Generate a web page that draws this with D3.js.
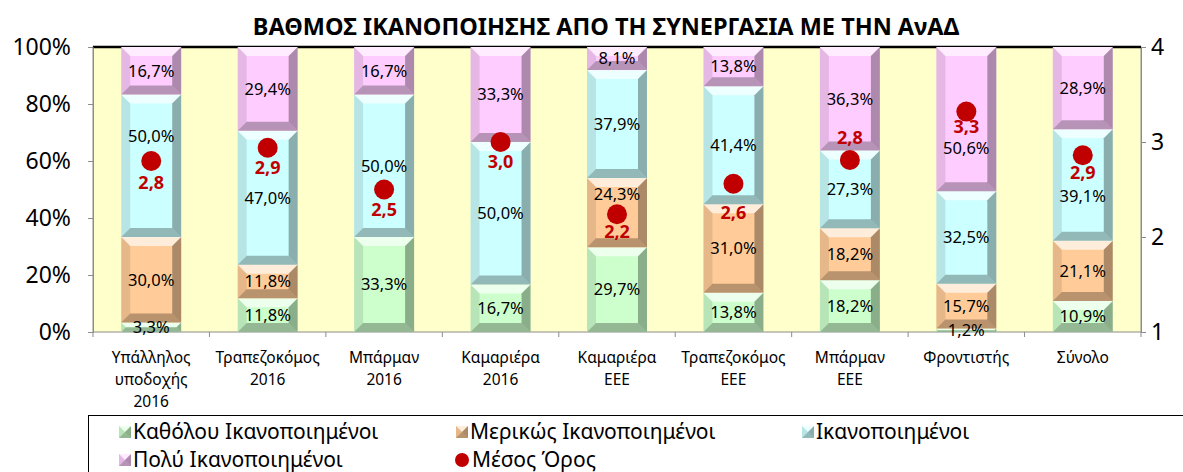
<!DOCTYPE html>
<html>
<head>
<meta charset="utf-8">
<script src="https://cdn.jsdelivr.net/npm/d3@7"></script>
<style>
  body { margin: 0; background: #fff; }
  svg text { font-family: "Noto Sans", sans-serif; }
</style>
</head>
<body>
<svg id="chart" width="1183" height="472"></svg>
<script>
// data
const categories = ["Υπάλληλος υποδοχής 2016", "Τραπεζοκόμος 2016", "Μπάρμαν 2016", "Καμαριέρα 2016",
  "Καμαριέρα ΕΕΕ", "Τραπεζοκόμος ΕΕΕ", "Μπάρμαν ΕΕΕ", "Φροντιστής", "Σύνολο"]
const seriesNames = ["Καθόλου Ικανοποιημένοι", "Μερικώς Ικανοποιημένοι", "Ικανοποιημένοι", "Πολύ Ικανοποιημένοι"]
const notAtAll = [3.3, 11.8, 33.3, 16.7, 29.7, 13.8, 18.2, 1.2, 10.9]
const partly = [30.0, 11.8, 0, 0, 24.3, 31.0, 18.2, 15.7, 21.1]
const satisfied = [50.0, 47.0, 50.0, 50.0, 37.9, 41.4, 27.3, 32.5, 39.1]
const very = [16.7, 29.4, 16.7, 33.3, 8.1, 13.8, 36.3, 50.6, 28.9]
const meanName = "Μέσος Όρος"
const meanValues = [2.8, 2.94, 2.5, 3.0, 2.24, 2.56, 2.81, 3.32, 2.86]
const leftTicks = [0, 20, 40, 60, 80, 100]
const rightTicks = [1, 2, 3, 4]

const colors = ["#CCFFCC", "#FFCC99", "#CCFFFF", "#FFCCFF"]
const red = "#C00000"

// manual label nudges (px), like the moved labels in the original
const segNudge = { "0-2": -30, "4-1": -19, "7-3": 29, "8-2": 11 }
const meanNudge = [22, 20, 20, 20, 17, 29, -22, 15, 17]

const svg = d3.select("#chart")
const margin = { top: 47, right: 42, bottom: 140, left: 93 }
const W = 1183, H = 472
const x0 = margin.left, x1 = W - margin.right, y0 = H - margin.bottom, y1 = margin.top

// title
svg.append("text")
   .attr("x", 606).attr("y", 35)
   .attr("text-anchor", "middle")
   .style("font-size", "23.5px").style("font-weight", "bold")
   .text("ΒΑΘΜΟΣ ΙΚΑΝΟΠΟΙΗΣΗΣ ΑΠΟ ΤΗ ΣΥΝΕΡΓΑΣΙΑ ΜΕ ΤΗΝ ΑνΑΔ")

// scales
const x = d3.scaleBand().domain(categories).range([x0, x1]).paddingInner(0.485).paddingOuter(0.2425)
const y = d3.scaleLinear().domain([0, 100]).range([y0, y1])
const y2 = d3.scaleLinear().domain([1, 4]).range([y0, y1])

// plot area
svg.append("rect")
   .attr("x", x0).attr("y", y1).attr("width", x1 - x0).attr("height", y0 - y1)
   .attr("fill", "#FFFFCC").attr("stroke", "#8c8c8c")
svg.append("line")
   .attr("x1", x0).attr("x2", x1).attr("y1", y1).attr("y2", y1)
   .attr("stroke", "#000").attr("stroke-width", 2.5)

// axes
const leftAxis = svg.append("g")
  .attr("transform", "translate(" + x0 + ",0)")
  .call(d3.axisLeft(y).tickValues(leftTicks).tickSize(5).tickSizeOuter(0).tickFormat(d => d + "%"))
const rightAxis = svg.append("g")
  .attr("transform", "translate(" + x1 + ",0)")
  .call(d3.axisRight(y2).tickValues(rightTicks).tickSize(5).tickSizeOuter(0).tickFormat(d3.format("d")))
for (const ax of [leftAxis, rightAxis]) {
  ax.select(".domain").attr("stroke", "#8c8c8c")
  ax.selectAll(".tick line").attr("stroke", "#8c8c8c")
  ax.selectAll(".tick text").style("font-size", "23px").attr("fill", "#000").attr("font-family", null)
}
leftAxis.selectAll(".tick text").attr("x", -22)
rightAxis.selectAll(".tick text").attr("x", 10)

// category ticks at band borders
const step = x.step()
const bottomAxis = svg.append("g").attr("transform", "translate(0," + y0 + ")")
bottomAxis.selectAll("line.b")
  .data(d3.range(categories.length + 1))
  .enter().append("line")
  .attr("x1", i => x0 + i * step).attr("x2", i => x0 + i * step)
  .attr("y1", 0).attr("y2", 5)
  .attr("stroke", "#8c8c8c")
bottomAxis.selectAll("text.cat")
  .data(categories)
  .enter().append("text")
  .attr("class", "cat")
  .attr("x", d => x(d) + x.bandwidth() / 2)
  .attr("text-anchor", "middle")
  .style("font-size", "15.5px")
  .each(function(d) {
    const words = d.split(" ")
    d3.select(this).selectAll("tspan").data(words).enter().append("tspan")
      .attr("x", x(d) + x.bandwidth() / 2)
      .attr("y", (w, i) => 31 + i * 22)
      .text(w => w)
  })

// stacked bars
const rows = categories.map((c, i) => ({ cat: c, s0: notAtAll[i], s1: partly[i], s2: satisfied[i], s3: very[i] }))
const stacked = d3.stack().keys(["s0", "s1", "s2", "s3"])(rows)

function bevel(g, bx, by, bw, bh) {
  const b = Math.min(9, bh / 2, bw / 2)
  const pts = [
    [[bx, by], [bx + bw, by], [bx + bw - b, by + b], [bx + b, by + b], "#fff", 0.65],
    [[bx, by + bh], [bx + bw, by + bh], [bx + bw - b, by + bh - b], [bx + b, by + bh - b], "#000", 0.28],
    [[bx, by], [bx + b, by + b], [bx + b, by + bh - b], [bx, by + bh], "#000", 0.10],
    [[bx + bw, by], [bx + bw - b, by + b], [bx + bw - b, by + bh - b], [bx + bw, by + bh], "#000", 0.32]
  ]
  pts.forEach(p => {
    g.append("polygon")
     .attr("points", p.slice(0, 4).map(q => q.join(",")).join(" "))
     .attr("fill", p[4]).attr("fill-opacity", p[5])
  })
}

const bars = svg.append("g")
stacked.forEach((layer, si) => {
  layer.forEach((seg, ci) => {
    const h = y(seg[0]) - y(seg[1])
    if (h <= 0) return
    const bx = x(categories[ci]), by = y(seg[1]), bw = x.bandwidth()
    const g = bars.append("g")
    g.append("rect").attr("x", bx).attr("y", by).attr("width", bw).attr("height", h).attr("fill", colors[si])
    bevel(g, bx, by, bw, h)
  })
})

// segment labels
const labels = svg.append("g")
stacked.forEach((layer, si) => {
  layer.forEach((seg, ci) => {
    const v = seg[1] - seg[0]
    if (v <= 0) return
    const nudge = segNudge[ci + "-" + si] || 0
    labels.append("text")
      .attr("x", x(categories[ci]) + x.bandwidth() / 2)
      .attr("y", y((seg[0] + seg[1]) / 2) + nudge)
      .attr("dy", "0.35em")
      .attr("text-anchor", "middle")
      .style("font-size", "16.5px")
      .text(v.toFixed(1).replace(".", ",") + "%")
  })
})

// mean dots
const means = svg.append("g")
means.selectAll("circle")
  .data(meanValues)
  .enter().append("circle")
  .attr("cx", (d, i) => x(categories[i]) + x.bandwidth() / 2)
  .attr("cy", d => y2(d))
  .attr("r", 10)
  .attr("fill", red)
means.selectAll("text")
  .data(meanValues)
  .enter().append("text")
  .attr("x", (d, i) => x(categories[i]) + x.bandwidth() / 2)
  .attr("y", (d, i) => y2(d) + meanNudge[i])
  .attr("dy", "0.35em")
  .attr("text-anchor", "middle")
  .style("font-size", "18px").style("font-weight", "bold")
  .attr("fill", red)
  .text(d => d.toFixed(1).replace(".", ","))

// legend
const legend = svg.append("g")
legend.append("rect")
  .attr("x", 88.5).attr("y", 415.5).attr("width", 1120).attr("height", 100)
  .attr("fill", "none").attr("stroke", "#000")
const legendPos = [[125, 432], [462, 432], [808, 432], [125, 460]]
seriesNames.forEach((name, i) => {
  const [lx, ly] = legendPos[i]
  const g = legend.append("g")
  g.append("rect").attr("x", lx - 6).attr("y", ly - 6).attr("width", 12).attr("height", 12).attr("fill", colors[i])
  bevel(g, lx - 6, ly - 6, 12, 12)
  g.append("text").attr("x", lx + 8).attr("y", ly).attr("dy", "0.35em")
   .style("font-size", "21px").text(name)
})
legend.append("circle").attr("cx", 462).attr("cy", 460).attr("r", 7).attr("fill", red)
legend.append("text").attr("x", 472).attr("y", 460).attr("dy", "0.35em")
  .style("font-size", "21px").text(meanName)
</script>
</body>
</html>
